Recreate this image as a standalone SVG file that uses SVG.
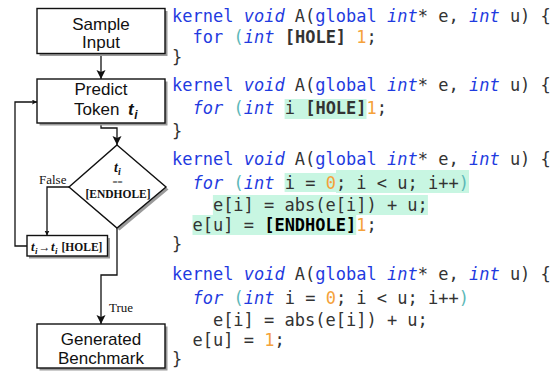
<svg xmlns="http://www.w3.org/2000/svg" width="557" height="371" viewBox="0 0 557 371">
<style>
.box{fill:#fff;stroke:#111;stroke-width:1.4}
.sh{fill:#9a9a9a}
.lbl{font-family:"Liberation Sans",Arial,sans-serif;font-size:17px;fill:#111;text-anchor:middle}
.ser{font-family:"Liberation Serif","Times New Roman",serif;fill:#111}
.edge{fill:none;stroke:#111;stroke-width:1.3}
.c{font-family:"DejaVu Sans Mono",monospace;font-size:17px;fill:#333}
.k{fill:#1f3be0}
.it{font-style:italic}
.p{fill:#5cb8b8}
.n{fill:#f5a23a}
.b{font-weight:bold}
.hl{fill:#c8f6e2}
</style>
<defs>
<marker id="big" markerUnits="userSpaceOnUse" markerWidth="10" markerHeight="10" refX="9" refY="4.5" orient="auto">
<path d="M0,0 L9,4.5 L0,9 L2,4.5 z" fill="#111"/>
</marker>
<marker id="sm" markerUnits="userSpaceOnUse" markerWidth="6" markerHeight="6" refX="5" refY="2.5" orient="auto">
<path d="M0,0 L5,2.5 L0,5 L1,2.5 z" fill="#111"/>
</marker>
</defs>

<g id="connectors">
<path class="edge" d="M101,53 V79" marker-end="url(#big)"/>
<path class="edge" d="M101,124 V128 H117 V145" marker-end="url(#big)"/>
<path class="edge" d="M69,187 H47 V235.5" marker-end="url(#sm)"/>
<path class="edge" d="M27,246 H15 V102 H37" marker-end="url(#sm)"/>
<path class="edge" d="M117,228 V275 H101 V324" marker-end="url(#big)"/>
<text class="ser" x="39" y="183.5" font-size="13">False</text>
<text class="ser" x="109" y="312" font-size="13">True</text>
</g>

<g id="sample-input">
<rect class="sh" x="39.5" y="11" width="128" height="45"/>
<rect class="box" x="37" y="8.5" width="128" height="45"/>
<text class="lbl" x="101" y="29.5">Sample</text>
<text class="lbl" x="101" y="48">Input</text>
</g>

<g id="predict-token">
<rect class="sh" x="39.5" y="81.5" width="128" height="44"/>
<rect class="box" x="37" y="79" width="128" height="44"/>
<text class="lbl" x="101" y="95">Predict</text>
<text class="lbl" x="74" y="115" style="text-anchor:start">Token</text>
<text class="lbl" x="128" y="115" style="text-anchor:start;font-weight:bold;font-style:italic">t</text>
<text class="lbl" x="134.2" y="119" style="text-anchor:start;font-weight:bold;font-style:italic;font-size:12px">i</text>
</g>

<g id="decision">
<polygon class="sh" points="119.5,147.5 168.5,189.5 119.5,230.5 71.5,189.5"/>
<polygon class="box" points="117,145 166,187 117,228 69,187"/>
<text class="ser" x="114" y="172" font-size="14" font-weight="bold" font-style="italic">t</text>
<text class="ser" x="118" y="175" font-size="10" font-weight="bold" font-style="italic">i</text>
<text class="ser" x="117.5" y="185" font-size="9" text-anchor="middle" fill="#444">==</text>
<text class="ser" x="118" y="197.5" font-size="11.5" font-weight="bold" text-anchor="middle">[ENDHOLE]</text>
</g>

<g id="replace-token">
<rect class="sh" x="29" y="238" width="81" height="20.5"/>
<rect class="box" x="27" y="235.5" width="80.5" height="20.5"/>
<text class="ser" x="31" y="251" font-size="13" font-weight="bold" font-style="italic">t</text>
<text class="ser" x="35" y="253.5" font-size="9" font-weight="bold" font-style="italic">i</text>
<text class="ser" x="38.5" y="250.5" font-size="12" font-weight="bold">→</text>
<text class="ser" x="51" y="251" font-size="13" font-weight="bold" font-style="italic">t</text>
<text class="ser" x="55" y="253.5" font-size="9" font-weight="bold" font-style="italic">i</text>
<text class="ser" x="61.5" y="251" font-size="11.5" font-weight="bold">[HOLE]</text>
</g>

<g id="generated-benchmark">
<rect class="sh" x="39.5" y="326.5" width="128" height="44"/>
<rect class="box" x="37" y="324" width="128" height="44"/>
<text class="lbl" x="101" y="345">Generated</text>
<text class="lbl" x="101" y="363.5">Benchmark</text>
</g>

<g id="code-1">
<text class="c" x="172" y="22" xml:space="preserve"><tspan class="k">kernel</tspan> <tspan class="k it">void</tspan> A(<tspan class="k">global</tspan> <tspan class="k it">int</tspan>* e, <tspan class="k it">int</tspan> u) {</text>
<text class="c" x="192.5" y="43" xml:space="preserve"><tspan class="k">for</tspan> <tspan class="p">(</tspan><tspan class="k it">int</tspan> <tspan class="b">[HOLE]</tspan> <tspan class="n">1</tspan>;</text>
<text class="c" x="172" y="63">}</text>
</g>

<g id="code-2">
<rect class="hl" x="284.6" y="99" width="81.9" height="20"/>
<text class="c" x="172" y="91" xml:space="preserve"><tspan class="k">kernel</tspan> <tspan class="k it">void</tspan> A(<tspan class="k">global</tspan> <tspan class="k it">int</tspan>* e, <tspan class="k it">int</tspan> u) {</text>
<text class="c" x="192.5" y="114" xml:space="preserve"><tspan class="k it">for</tspan> <tspan class="p">(</tspan><tspan class="k it">int</tspan> i <tspan class="b">[HOLE]</tspan><tspan class="n">1</tspan>;</text>
<text class="c" x="172" y="137">}</text>
</g>

<g id="code-3">
<rect class="hl" x="284.6" y="173" width="51.5" height="19"/>
<rect class="hl" x="336" y="170" width="133" height="23"/>
<rect class="hl" x="212.9" y="195" width="215" height="20"/>
<rect class="hl" x="192.5" y="215" width="163.7" height="20"/>
<text class="c" x="172" y="165" xml:space="preserve"><tspan class="k">kernel</tspan> <tspan class="k it">void</tspan> A(<tspan class="k">global</tspan> <tspan class="k it">int</tspan>* e, <tspan class="k it">int</tspan> u) {</text>
<text class="c" x="192.5" y="188.5" xml:space="preserve"><tspan class="k it">for</tspan> <tspan class="p">(</tspan><tspan class="k it">int</tspan> i = <tspan class="n">0</tspan>; i &lt; u; i++<tspan class="p">)</tspan></text>
<text class="c" x="212.9" y="210.5" xml:space="preserve">e[i] = abs(e[i]) + u;</text>
<text class="c" x="192.5" y="230.5" xml:space="preserve">e[u] = <tspan class="b" fill="#000">[ENDHOLE]</tspan><tspan class="n">1</tspan>;</text>
<text class="c" x="172" y="249.5">}</text>
</g>

<g id="code-4">
<text class="c" x="172" y="280" xml:space="preserve"><tspan class="k">kernel</tspan> <tspan class="k it">void</tspan> A(<tspan class="k">global</tspan> <tspan class="k it">int</tspan>* e, <tspan class="k it">int</tspan> u) {</text>
<text class="c" x="192.5" y="303.5" xml:space="preserve"><tspan class="k it">for</tspan> <tspan class="p">(</tspan><tspan class="k it">int</tspan> i = <tspan class="n">0</tspan>; i &lt; u; i++<tspan class="p">)</tspan></text>
<text class="c" x="212.9" y="325.5" xml:space="preserve">e[i] = abs(e[i]) + u;</text>
<text class="c" x="192.5" y="345.5" xml:space="preserve">e[u] = <tspan class="n">1</tspan>;</text>
<text class="c" x="172" y="365">}</text>
</g>
</svg>
